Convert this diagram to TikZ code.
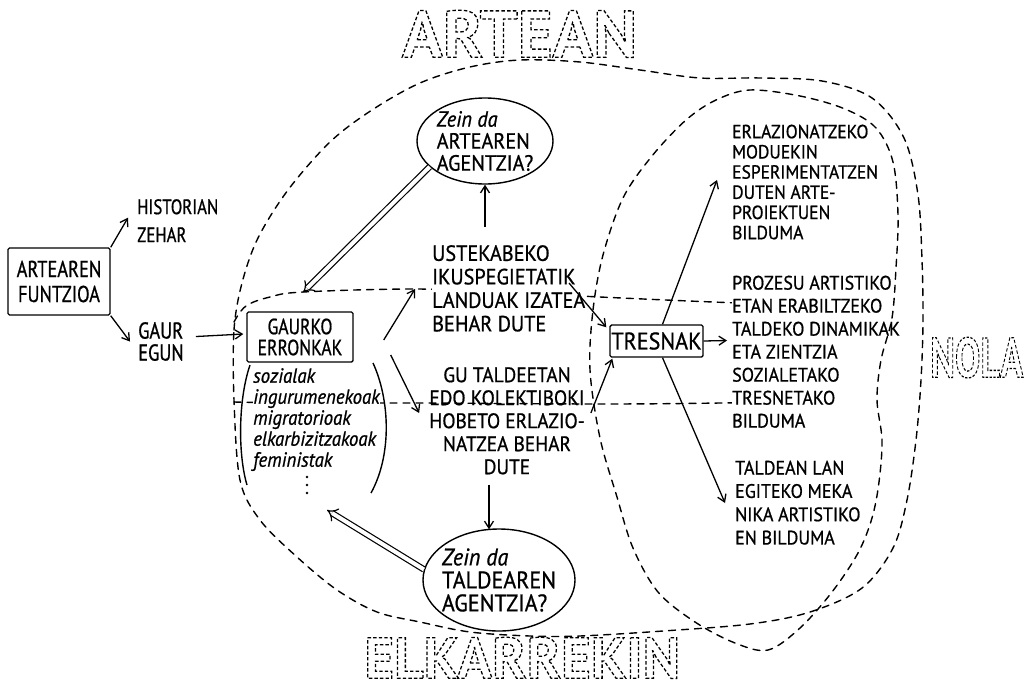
\documentclass[tikz,border=0pt]{standalone}
\usepackage{fontspec}
\usepackage{graphicx}
\usetikzlibrary{arrows.meta,shapes.geometric,calc}
\setmainfont{PT Sans}
\newfontfamily\hand{PT Sans}[FakeStretch=0.8, FakeBold=0.8]
\newfontfamily\handw{PT Sans}[FakeStretch=0.92, FakeBold=0.8]
\newcommand\hf[2]{\hand\fontsize{#1}{#2}\selectfont}
\newcommand\hw[2]{\handw\fontsize{#1}{#2}\selectfont}
\newcommand\outl[1]{\special{pdf:literal direct 1 Tr 1.3 w [3.5 2.2] 0 d}#1\special{pdf:literal direct 0 Tr [] 0 d 1 w}}
\tikzset{
 txt/.style={inner sep=0pt, anchor=north west, align=left, fill=white},
 txtn/.style={inner sep=0pt, anchor=north west, align=left},
 rbox/.style={draw, line width=1.4pt, inner sep=0pt, align=center, rounded corners=1.5pt},
 bub/.style={draw, ellipse, line width=1.4pt, inner xsep=-6pt, inner ysep=-2pt, align=left},
 arr/.style={line width=1.3pt, -{Straight Barb[length=7pt,width=9pt]}},
 dbl/.style={double=white, double distance=4pt, line width=1.2pt, -{Implies}},
 dsh/.style={line width=1.4pt, dash pattern=on 7pt off 6pt, line cap=round},
 paren/.style={line width=1.4pt},
 ttl/.style={inner sep=0pt, anchor=north west},
}
\begin{document}
\begin{tikzpicture}[x=1pt,y=-1pt]
\fill[white] (0,0) rectangle (1032,696);
% band lines (behind the text)
\draw[dsh] plot[smooth,tension=0.6] coordinates {(234,322) (246,306) (270,297) (303,292) (413,289) (500,292) (600,297) (713,302) (800,305) (892,305)};
\draw[dsh] plot[smooth,tension=0.6] coordinates {(234,402) (300,403) (420,403) (600,404) (720,403) (800,401) (879,400)};

% titles
\node[ttl] (artean) at (402,10) {\resizebox{235pt}{47pt}{\fontsize{67}{67}\selectfont\bfseries\outl{ARTEAN}}};
\node[ttl] (elkar) at (364,637) {\resizebox{316pt}{41pt}{\fontsize{59}{59}\selectfont\bfseries\outl{ELKARREKIN}}};
\node[ttl] (nola) at (930,337) {\resizebox{93pt}{40pt}{\fontsize{57}{57}\selectfont\bfseries\outl{NOLA}}};

% left part
\node[rbox, minimum width=102pt, minimum height=67pt, font={\hf{23}{25}}] (funtz) at (59,281.5) {ARTEAREN\\FUNTZIOA};
\node[txt, font={\hf{21}{28}}] (hist) at (137,199) {HISTORIAN\\ZEHAR};
\node[txt, font={\hf{23}{22}}] (gaur) at (138,322) {GAUR\\EGUN};
\node[rbox, minimum width=106pt, minimum height=50pt, font={\hf{22}{21}}] (gaurko) at (300,337) {GAURKO\\ERRONKAK};
\node[txt, font={\hw{20.5}{21}\itshape}] (list) at (253,368) {sozialak\\ingurumenekoak\\migratorioak\\elkarbizitzakoak\\feministak};
\fill (307,477) circle (1.3pt) (307,485) circle (1.3pt) (307,493) circle (1.3pt);
\draw[paren] (250,365) .. controls (238,400) and (238,455) .. (247,485);
\draw[paren] (373,363) .. controls (390,400) and (392,455) .. (371,493);

% centre
\node[txt, font={\hw{22}{23.5}}] (ust) at (432,245) {USTEKABEKO\\IKUSPEGIETATIK\\LANDUAK IZATEA\\BEHAR DUTE};
\node[txtn, align=center, font={\hw{21}{23}}] (gu) at (507,367) [anchor=north] {GU TALDEETAN\\EDO KOLEKTIBOKI\\HOBETO ERLAZIO-\\NATZEA BEHAR\\DUTE};
\node[bub, minimum width=136pt, minimum height=86pt, font={\hw{22}{22}}] (artq) at (485,141) {\textit{Zein da}\\ARTEAREN\\AGENTZIA?};
\node[bub, minimum width=152pt, minimum height=102pt, font={\hw{24}{23}}] (taldq) at (499,580) {\textit{Zein da}\\TALDEAREN\\AGENTZIA?};

% right
\node[rbox, minimum width=93pt, minimum height=32pt, font={\hw{24}{24}}] (tres) at (656.5,341) {TRESNAK};
\node[txt, font={\hw{19}{20.2}}] (nA) at (732,124.5) {ERLAZIONATZEKO\\MODUEKIN\\ESPERIMENTATZEN\\DUTEN ARTE-\\PROIEKTUEN\\BILDUMA};
\node[txt, font={\hw{19.5}{23}}] (nB) at (732,275.5) {PROZESU ARTISTIKO\\ETAN ERABILTZEKO\\TALDEKO DINAMIKAK\\ETA ZIENTZIA\\SOZIALETAKO\\TRESNETAKO\\BILDUMA};
\node[txt, font={\hw{19.5}{23.3}}] (nC) at (735,460.5) {TALDEAN LAN\\EGITEKO MEKA\\NIKA ARTISTIKO\\EN BILDUMA};

% outer region and NOLA region
\draw[dsh] plot[smooth cycle, tension=0.55] coordinates {(234,400) (234,330) (242,283) (258,238) (288,190) (330,142) (372,110) (420,83) (470,67) (520,60) (580,62) (640,70) (700,78) (760,78) (822,81) (872,98) (904,138) (918,195) (922,260) (923,320) (921,380) (916,440) (907,500) (893,548) (862,588) (810,612) (750,624) (663,631) (580,636) (530,636) (470,632) (420,622) (377,612) (337,590) (297,557) (260,520) (240,480)};
\draw[dsh] plot[smooth cycle, tension=0.55] coordinates {(590,370) (593,310) (603,255) (623,198) (652,156) (686,120) (716,100) (750,90) (800,96) (845,109) (876,128) (893,162) (898,215) (896,268) (892,318) (881,360) (877,400) (882,440) (879,482) (872,518) (858,553) (832,592) (800,628) (768,650) (735,643) (695,622) (658,592) (633,548) (617,497) (600,438)};

% connectors
\draw[arr] (funtz.north east) -- ($(hist.west)+(-9,-3)$);
\draw[arr] (funtz.south east) -- ($(gaur.west)+(-8,0)$);
\draw[arr] ($(gaur.east)+(12,-5)$) -- ($(gaurko.west)+(-3,-3)$);
\draw[arr] ($(gaurko.east)+(30,3)$) -- ($(ust.north west)+(-17,44)$);
\draw[arr] ($(gaurko.east)+(37,18)$) -- ($(gu.north west)+(-10,46)$);
\draw[arr, shorten <=18pt] (artq.south |- ust.north) -- (artq.south);
\draw[arr] ($(gu.south)+(-18,10)$) -- ($(taldq.north)+(-10,1)$);
\draw[arr] ($(ust.north west)+(137,38)$) -- ($(tres.north west)+(-3,3)$);
\draw[arr] ($(gu.north east)+(6,46)$) -- ($(tres.south west)+(3,1)$);
\draw[arr] (tres.east) -- ($(nB.north west)+(-5,65)$);
\draw[arr] ($(tres.north)+(6,0)$) -- ($(nA.north west)+(-15,55.5)$);
\draw[arr] ($(tres.south)+(6,0)$) -- ($(nC.north west)+(-10,42.5)$);
\draw[dbl] (artq.205) -- ($(gaurko.north)+(3,-19)$);
\coordinate (tipB) at (327,510);
\draw[dbl] (taldq.172) -- (tipB);
\end{tikzpicture}
\end{document}
